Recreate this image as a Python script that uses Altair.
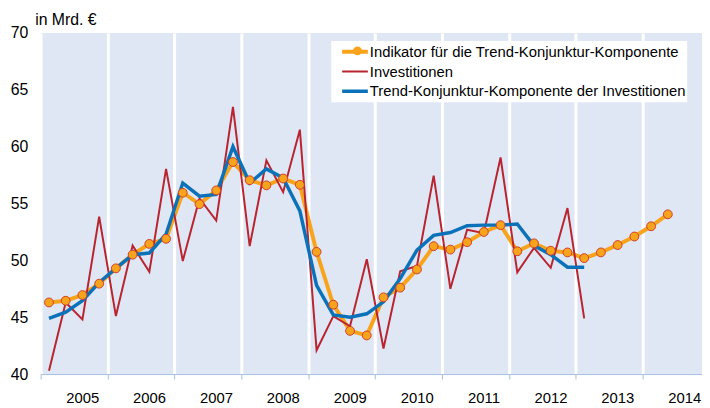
import altair as alt
import pandas as pd

S_IND = "Indikator für die Trend-Konjunktur-Komponente"
S_INV = "Investitionen"
S_TRD = "Trend-Konjunktur-Komponente der Investitionen"

years = list(range(2005, 2015))
quarters = [(y, q) for y in years for q in (1, 2, 3, 4)]

indikator = [46.3, 46.45, 46.95, 47.95, 49.3, 50.5, 51.45, 51.9,
             55.95, 54.95, 56.15, 58.65, 57.05, 56.6, 57.2, 56.65,
             50.75, 46.1, 43.8, 43.4, 46.75, 47.6, 49.2, 51.25,
             50.95, 51.6, 52.5, 53.1, 50.8, 51.5, 50.85, 50.7,
             50.2, 50.7, 51.35, 52.1, 53.0, 54.05]
investitionen = [40.3, 46.3, 44.8, 53.85, 45.1, 51.3, 49.0, 58.05,
                 49.95, 55.45, 53.5, 63.5, 51.25, 58.8, 56.0, 61.5,
                 42.1, 45.1, 44.2, 50.1, 42.25, 49.05, 49.5, 57.45,
                 47.5, 52.7, 52.4, 59.05, 48.95, 51.1, 49.35, 54.6,
                 44.9]
trend = [44.9, 45.45, 46.45, 48.05, 49.3, 50.5, 50.65, 52.3,
         56.8, 55.65, 55.8, 60.0, 56.8, 58.05, 57.25, 54.35,
         47.8, 45.2, 45.0, 45.3, 46.35, 48.4, 50.9, 52.2,
         52.45, 53.05, 53.1, 53.1, 53.2, 51.3, 50.5, 49.4,
         49.4]

ORANGE = "#f8a31c"
RED = "#b8242f"
BLUE = "#0b72b9"
CIRCLE_STROKE = "#cc3f2c"
BG = "#e0e7f4"
AXIS = "#a6bde0"


def frame(values, name):
    return pd.DataFrame({
        "t": [y + (q - 0.5) / 4 for (y, q) in quarters[:len(values)]],
        "v": values,
        "series": name,
    })


df = pd.concat([frame(indikator, S_IND), frame(investitionen, S_INV),
                frame(trend, S_TRD)], ignore_index=True)

NBSP = "\u00a0"
leg = dict(orient="none", legendX=294, legendY=8, title=None,
           fillColor="white", padding=1, clipHeight=20, rowPadding=0,
           symbolType="stroke", symbolSize=676, symbolOffset=8,
           labelOffset=0, labelFontSize=15, labelColor="#000000",
           labelLimit=600, labelExpr="datum.label + '" + NBSP * 3 + "'",
           zindex=1)

x = alt.X("t:Q", scale=alt.Scale(domain=[2005, 2014.886], nice=False, zero=False),
          axis=alt.Axis(values=years, format="d", title=None, grid=True,
                        gridColor="white", gridWidth=3, gridOpacity=1,
                        domainColor=AXIS, domainWidth=1, tickColor=AXIS,
                        tickSize=5, tickWidth=1, labelOffset=42,
                        labelPadding=12, labelFontSize=15, labelColor="#000000",
                        labelOverlap=False, labelFlush=False))
y = alt.Y("v:Q", scale=alt.Scale(domain=[40, 70], nice=False, zero=False),
          axis=alt.Axis(values=[40, 45, 50, 55, 60, 65, 70], grid=False,
                        ticks=False, tickSize=0, domain=False, labelPadding=13,
                        labelFontSize=16, labelColor="#000000",
                        title="in Mrd. €", titleAngle=0, titleX=-6, titleY=-9,
                        titleAlign="left", titleBaseline="alphabetic",
                        titleFontSize=16, titleFontWeight="normal",
                        titleColor="#000000"))
color = alt.Color("series:N",
                  scale=alt.Scale(domain=[S_IND, S_INV, S_TRD], range=[ORANGE, RED, BLUE]),
                  legend=alt.Legend(**leg))
sw = alt.StrokeWidth("series:N",
                     scale=alt.Scale(type="ordinal", domain=[S_IND, S_INV, S_TRD], range=[4, 2, 3.5]),
                     legend=alt.Legend(**leg))


def line(name):
    return alt.Chart(df).transform_filter(alt.datum.series == name).mark_line(
        strokeJoin="miter", strokeCap="butt").encode(x=x, y=y, color=color, strokeWidth=sw)


points = alt.Chart(df).transform_filter(alt.datum.series == S_IND).mark_point(
    filled=True, fill=ORANGE, stroke=CIRCLE_STROKE, strokeWidth=1, size=80, opacity=1
).encode(
    x=x, y=y,
    shape=alt.Shape("series:N", scale=alt.Scale(domain=[S_IND], range=["circle"]),
                    legend=alt.Legend(orient="none", legendX=294, legendY=7, title=None,
                                      padding=1, clipHeight=20, rowPadding=0,
                                      symbolOffset=18, symbolSize=80,
                                      symbolFillColor=ORANGE, symbolStrokeColor=CIRCLE_STROKE,
                                      symbolStrokeWidth=1, symbolOpacity=1,
                                      labelExpr="''", labelFontSize=15, zindex=2))
)

chart = alt.layer(line(S_IND), line(S_INV), line(S_TRD), points).properties(
    width=669, height=345,
    autosize=alt.AutoSizeParams(type="none"),
    padding={"left": 33, "top": 23, "right": 0, "bottom": 30},
).configure(font="Liberation Sans").configure_view(fill=BG, strokeWidth=0)

chart.save("out.html", embed_options={"renderer": "svg", "actions": False})
